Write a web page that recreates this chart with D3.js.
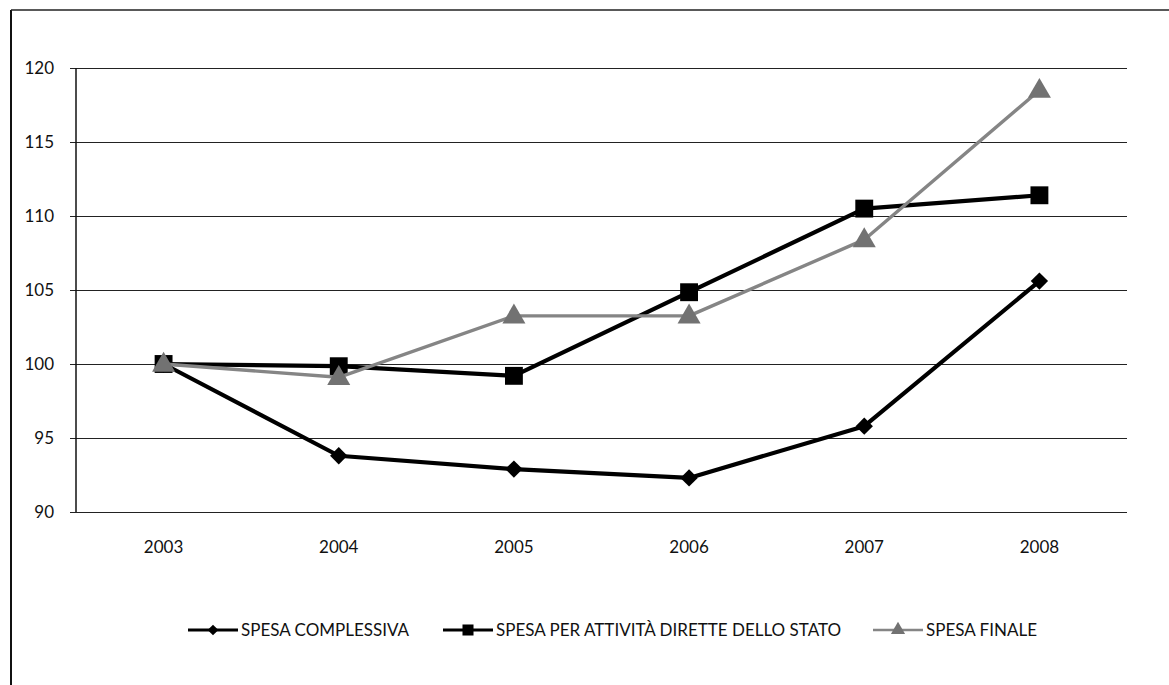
<!DOCTYPE html>
<html><head><meta charset="utf-8">
<script src="https://cdn.jsdelivr.net/npm/d3@7"></script>
<style>
html,body{margin:0;padding:0;background:#fff;}
svg{display:block;}
text{font-family:Lato,"Open Sans",sans-serif;fill:#111;}
</style></head>
<body>
<svg id="chart" width="1169" height="685"></svg>
<script>
const years = ["2003","2004","2005","2006","2007","2008"];
const seriesNames = ["SPESA COMPLESSIVA","SPESA PER ATTIVITÀ DIRETTE DELLO STATO","SPESA FINALE"];
const spesaComplessiva = [100, 93.8, 92.9, 92.3, 95.8, 105.6];
const spesaAttivitaStato = [100, 99.85, 99.2, 104.85, 110.5, 111.4];
const spesaFinale = [100, 99.1, 103.25, 103.25, 108.4, 118.5];
const yTicks = [90, 95, 100, 105, 110, 115, 120];

const svg = d3.select("#chart");
const x = d3.scaleBand().domain(years).range([76, 1127]);
const y = d3.scaleLinear().domain([90, 120]).range([512, 68]);

// outer frame
svg.append("line").attr("x1",11).attr("x2",11).attr("y1",10).attr("y2",685).attr("stroke","#111").attr("stroke-width",2);
svg.append("line").attr("x1",11).attr("x2",1169).attr("y1",10).attr("y2",10).attr("stroke","#222").attr("stroke-width",1.6);

// gridlines
const yAxis = d3.axisLeft(y).tickValues(yTicks).tickSize(-(1127-70)).tickSizeOuter(0).tickPadding(16);
const gy = svg.append("g").attr("transform","translate(70,0)").call(yAxis);
gy.select(".domain").remove();
gy.selectAll(".tick line").attr("stroke","#222").attr("stroke-width",1.2);
gy.selectAll(".tick text").attr("font-size","17px").attr("fill","#111").attr("dy","0.35em").attr("x",-16);
// y axis line
svg.append("line").attr("x1",76).attr("x2",76).attr("y1",y(120)).attr("y2",y(90)).attr("stroke","#111").attr("stroke-width",1.5);

// x labels
const xAxis = d3.axisBottom(x).tickSize(0).tickPadding(0);
const gx = svg.append("g").attr("transform","translate(0,547)").call(xAxis);
gx.select(".domain").remove();
gx.selectAll(".tick text").attr("font-size","17px").attr("fill","#111").attr("dy","0.35em").attr("y",0);

const cx = d => x(d) + x.bandwidth()/2;
const line = d3.line().x(d => cx(d.year)).y(d => y(d.v));

const series = [
  {name: seriesNames[0], values: spesaComplessiva, color:"#000", fill:"#000", width:4.2, marker:"diamond"},
  {name: seriesNames[1], values: spesaAttivitaStato, color:"#000", fill:"#000", width:4.2, marker:"square"},
  {name: seriesNames[2], values: spesaFinale, color:"#858585", fill:"#727272", width:3.4, marker:"triangle"}
];
const sym = {diamond: d3.symbolSquare, square: d3.symbolSquare, triangle: d3.symbolTriangle};
const symSize = {diamond: 150, square: 320, triangle: 230};
const symRot = {diamond: 45, square: 0, triangle: 0};
const symDy = {diamond: 0, square: 0, triangle: 1};

series.forEach(s => {
  const pts = years.map((yr,i) => ({year: yr, v: s.values[i]}));
  svg.append("path").datum(pts).attr("d", line).attr("fill","none")
    .attr("stroke", s.color).attr("stroke-width", s.width).attr("stroke-linejoin","round");
  svg.selectAll(null).data(pts).enter().append("path")
    .attr("d", d3.symbol().type(sym[s.marker]).size(symSize[s.marker]))
    .attr("transform", d => `translate(${cx(d.year)},${y(d.v) + symDy[s.marker]}) rotate(${symRot[s.marker]})`)
    .attr("fill", s.fill);
});

// legend
const legendX = [188, 443, 873];
const legendY = 630;
series.forEach((s, i) => {
  const g = svg.append("g").attr("transform", `translate(${legendX[i]},${legendY})`);
  g.append("line").attr("x1",0).attr("x2",50).attr("y1",0).attr("y2",0)
    .attr("stroke", s.color).attr("stroke-width", s.width*0.7);
  g.append("path").attr("d", d3.symbol().type(sym[s.marker]).size(symSize[s.marker]*0.38))
    .attr("transform",`translate(25,0) rotate(${symRot[s.marker]})`).attr("fill", s.fill);
  g.append("text").attr("x",53).attr("dy","0.35em").attr("font-size","17px").text(s.name);
});
</script>
</body></html>
